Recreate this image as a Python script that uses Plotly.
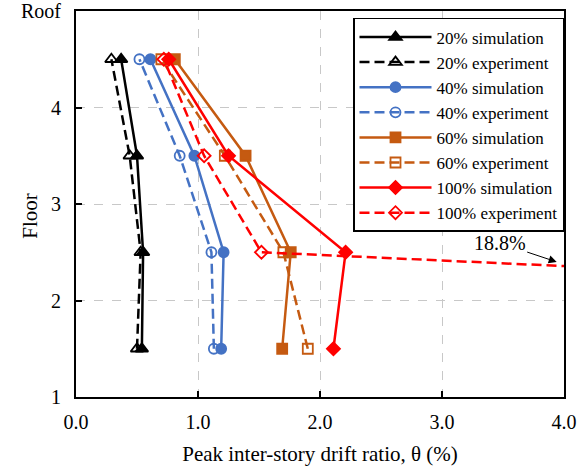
import plotly.graph_objects as go

floors = [1.5, 2.5, 3.5, 4.5]

sim20 = [0.54, 0.55, 0.50, 0.37]
exp20 = [0.50, 0.53, 0.44, 0.29]
sim40 = [1.19, 1.21, 0.97, 0.61]
exp40 = [1.13, 1.11, 0.85, 0.52]
sim60 = [1.69, 1.76, 1.39, 0.81]
exp60 = [1.90, 1.70, 1.22, 0.70]
sim100 = [2.11, 2.21, 1.25, 0.76]
exp100 = [18.8, 1.52, 1.05, 0.72]

y_tickvals = [1, 2, 3, 4, 5]
y_ticktext = ["1", "2", "3", "4", "Roof"]
x_tickvals = [0, 1, 2, 3, 4]
x_ticktext = ["0.0", "1.0", "2.0", "3.0", "4.0"]

FONT = "Liberation Serif"
BLACK = "#000000"
BLUE = "#4472C4"
ORANGE = "#C55A11"
RED = "#FF0000"
DASH = "10px,5px"

series = [
    ("20% simulation", sim20, BLACK, "solid", "triangle-up", 11),
    ("20% experiment", exp20, BLACK, DASH, "triangle-up-open", 11),
    ("40% simulation", sim40, BLUE, "solid", "circle", 10),
    ("40% experiment", exp40, BLUE, DASH, "circle-open", 10),
    ("60% simulation", sim60, ORANGE, "solid", "square", 10),
    ("60% experiment", exp60, ORANGE, DASH, "square-open", 10),
    ("100% simulation", sim100, RED, "solid", "diamond", 10),
    ("100% experiment", exp100, RED, DASH, "diamond-open", 10),
]

fig = go.Figure()
for name, xs, color, dash, sym, size in series:
    fig.add_trace(go.Scatter(
        x=xs, y=floors, name=name, mode="lines+markers",
        line=dict(color=color, width=2.5, dash=dash),
        marker=dict(symbol=sym, size=size, color=color,
                    line=dict(color=color, width=1.8)),
        cliponaxis=True,
    ))

fig.add_annotation(
    x=3.94, y=2.40, xref="x", yref="y", text="18.8%",
    showarrow=True, ax=-57, ay=-19, arrowhead=2, arrowsize=1.6,
    arrowwidth=1, arrowcolor="#000000",
    font=dict(family=FONT, size=20, color="#000000"),
)

# y-axis title placed as rotated text
fig.add_annotation(
    x=-0.096, y=0.47, xref="paper", yref="paper", text="Floor",
    showarrow=False, textangle=-90, xanchor="center", yanchor="middle",
    font=dict(family=FONT, size=21, color="#000000"),
)

fig.update_layout(
    width=577, height=467,
    margin=dict(l=76, r=13, t=11, b=70),
    paper_bgcolor="white", plot_bgcolor="white",
    font=dict(family=FONT, size=20, color="#000000"),
    legend=dict(
        x=1.0, y=0.982, xanchor="right", yanchor="top",
        bgcolor="white", bordercolor="#000000", borderwidth=1.5,
        font=dict(family=FONT, size=17, color="#000000"),
        tracegroupgap=0, itemwidth=72,
    ),
    xaxis=dict(
        range=[0, 4], tickvals=x_tickvals, ticktext=x_ticktext,
        showgrid=True, gridcolor="#C8C8C8", griddash="dash", gridwidth=1,
        showline=True, linecolor="#000000", linewidth=2, mirror=True,
        ticks="inside", ticklen=6, tickcolor="#000000", tickwidth=1.5,
        zeroline=False, automargin=False, ticklabelstandoff=6,
        title=dict(text="Peak inter-story drift ratio, θ (%)",
                   font=dict(family=FONT, size=21), standoff=14),
        tickfont=dict(family=FONT, size=20),
    ),
    yaxis=dict(
        range=[1, 5], tickvals=y_tickvals, ticktext=y_ticktext,
        showgrid=True, gridcolor="#C8C8C8", griddash="dash", gridwidth=1,
        showline=True, linecolor="#000000", linewidth=2, mirror=True,
        ticks="inside", ticklen=6, tickcolor="#000000", tickwidth=1.5,
        zeroline=False, automargin=False, ticklabelstandoff=9,
        tickfont=dict(family=FONT, size=20),
    ),
)

fig.write_html(
    "out.html",
    config={"displayModeBar": False},
    post_script="document.body.style.margin='0';document.body.style.padding='0';",
)
